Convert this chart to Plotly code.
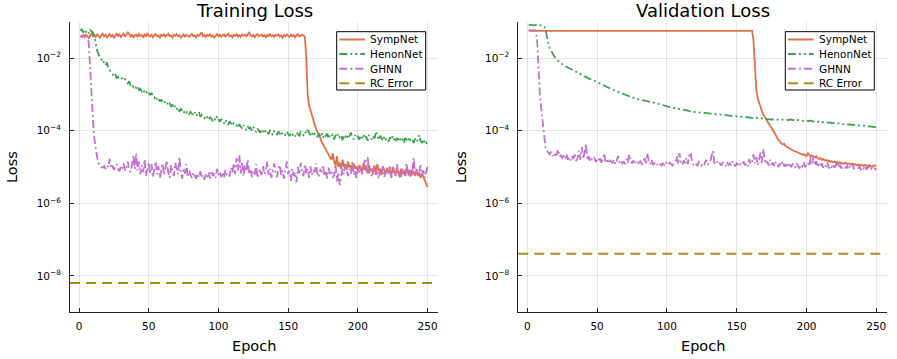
import plotly.graph_objects as go

# ---------------- data (log10 of loss) ----------------
epochs = list(range(1, 251))

train_sympnet_log10 = [
    -1.42, -1.40, -1.38, -1.43, -1.36, -1.40, -1.45, -1.38, -1.33, -1.40,
    -1.36, -1.42, -1.35, -1.39, -1.44, -1.37, -1.33, -1.40, -1.36, -1.43,
    -1.38, -1.34, -1.41, -1.37, -1.45, -1.36, -1.32, -1.39, -1.35, -1.42,
    -1.38, -1.33, -1.40, -1.36, -1.28, -1.37, -1.41, -1.35, -1.44, -1.38,
    -1.36, -1.42, -1.34, -1.39, -1.37, -1.44, -1.35, -1.40, -1.33, -1.38,
    -1.41, -1.36, -1.43, -1.37, -1.34, -1.40, -1.38, -1.45, -1.36, -1.39,
    -1.35, -1.41, -1.37, -1.33, -1.40, -1.38, -1.43, -1.36, -1.39, -1.34,
    -1.40, -1.37, -1.44, -1.38, -1.35, -1.41, -1.36, -1.39, -1.42, -1.37,
    -1.34, -1.40, -1.38, -1.43, -1.36, -1.39, -1.33, -1.29, -1.40, -1.37,
    -1.42, -1.36, -1.39, -1.35, -1.41, -1.38, -1.44, -1.37, -1.34, -1.40,
    -1.36, -1.42, -1.38, -1.35, -1.41, -1.37, -1.33, -1.40, -1.38, -1.43,
    -1.36, -1.39, -1.34, -1.41, -1.37, -1.42, -1.35, -1.39, -1.36, -1.40,
    -1.33, -1.30, -1.38, -1.41, -1.36, -1.43, -1.37, -1.34, -1.40, -1.38,
    -1.35, -1.41, -1.37, -1.44, -1.36, -1.39, -1.34, -1.40, -1.37, -1.42,
    -1.36, -1.39, -1.35, -1.41, -1.38, -1.44, -1.37, -1.40, -1.35, -1.39,
    -1.42, -1.36, -1.40, -1.37, -1.43, -1.38, -1.35, -1.41, -1.37, -1.36,
    -1.38, -1.42, -2.00, -3.00, -3.30, -3.45, -3.60, -3.70, -3.82, -3.95,
    -4.02, -4.10, -4.20, -4.30, -4.38, -4.45, -4.52, -4.58, -4.66, -4.72,
    -4.80, -4.62, -4.85, -4.95, -4.70, -5.00, -4.88, -5.05, -4.80, -5.00,
    -4.92, -5.08, -4.85, -5.02, -4.95, -5.10, -4.90, -5.05, -4.98, -5.12,
    -4.95, -5.05, -5.15, -4.90, -5.08, -5.00, -5.18, -4.95, -5.10, -5.05,
    -5.20, -5.00, -5.12, -4.92, -5.15, -5.05, -5.22, -5.00, -5.10, -5.18,
    -5.02, -5.15, -5.08, -5.25, -5.00, -5.12, -5.20, -5.05, -5.15, -5.28,
    -5.05, -5.18, -5.10, -5.25, -5.02, -5.15, -5.22, -5.08, -5.20, -5.12,
    -5.25, -5.10, -5.22, -5.15, -5.30, -5.18, -5.28, -5.35, -5.45, -5.55,
]

train_henonnet_log10 = [
    -1.25, -1.20, -1.30, -1.22, -1.28, -1.24, -1.32, -1.22, -1.27, -1.30,
    -1.40, -1.62, -1.80, -1.90, -1.96, -2.05, -2.02, -2.15, -2.20, -2.12,
    -2.28, -2.33, -2.40, -2.45, -2.50, -2.44, -2.55, -2.52, -2.58, -2.55,
    -2.56, -2.62, -2.58, -2.66, -2.70, -2.64, -2.75, -2.72, -2.80, -2.76,
    -2.83, -2.78, -2.88, -2.85, -2.92, -2.87, -2.95, -2.90, -2.98, -2.94,
    -3.02, -2.96, -3.06, -3.10, -3.04, -3.16, -3.12, -3.20, -3.14, -3.22,
    -3.18, -3.26, -3.22, -3.30, -3.25, -3.33, -3.28, -3.38, -3.32, -3.42,
    -3.36, -3.48, -3.40, -3.45, -3.52, -3.44, -3.50, -3.46, -3.55, -3.48,
    -3.53, -3.58, -3.50, -3.60, -3.55, -3.48, -3.62, -3.57, -3.62, -3.66,
    -3.58, -3.64, -3.70, -3.62, -3.68, -3.74, -3.66, -3.72, -3.60, -3.70,
    -3.76, -3.68, -3.74, -3.80, -3.70, -3.78, -3.84, -3.74, -3.80, -3.86,
    -3.78, -3.84, -3.85, -3.92, -3.82, -3.88, -3.95, -3.85, -3.90, -3.98,
    -3.88, -3.94, -3.92, -4.00, -3.90, -3.96, -4.04, -3.94, -4.00, -4.06,
    -3.96, -4.02, -4.08, -3.98, -4.04, -4.10, -3.98, -4.05, -4.12, -4.00,
    -4.06, -4.10, -4.02, -4.08, -4.14, -4.04, -4.07, -4.12, -4.03, -4.10,
    -4.15, -4.06, -4.12, -4.08, -4.16, -4.05, -4.10, -4.14, -4.04, -4.09,
    -4.12, -4.02, -4.08, -3.98, -4.06, -4.12, -4.04, -4.15, -4.08, -4.12,
    -4.18, -4.08, -4.14, -4.06, -4.20, -4.10, -4.15, -4.08, -4.22, -4.12,
    -4.16, -4.10, -4.24, -4.12, -4.18, -4.08, -4.20, -4.14, -4.26, -4.12,
    -4.17, -4.10, -4.22, -4.15, -4.05, -4.18, -4.24, -4.12, -4.20, -4.16,
    -4.25, -4.14, -4.20, -4.10, -4.22, -4.16, -4.28, -4.12, -4.18, -4.24,
    -4.15, -4.22, -4.02, -4.18, -4.26, -4.14, -4.22, -4.28, -4.16, -4.24,
    -4.20, -4.30, -4.18, -4.25, -4.14, -4.22, -4.32, -4.20, -4.26, -4.18,
    -4.28, -4.22, -4.34, -4.20, -4.26, -4.30, -4.18, -4.28, -4.24, -4.34,
    -4.22, -4.30, -4.26, -4.12, -4.28, -4.34, -4.24, -4.36, -4.32, -4.40,
]

train_ghnn_log10 = [
    -1.38, -1.42, -1.36, -1.40, -1.34, -1.38, -1.60, -2.40, -3.10, -3.70,
    -4.20, -4.55, -4.75, -4.90, -4.97, -5.00, -5.02, -4.98, -5.05, -4.95,
    -5.00, -4.78, -5.02, -4.96, -5.08, -5.00, -4.92, -5.06, -5.12, -4.98,
    -5.04, -4.90, -5.10, -5.02, -4.85, -5.08, -5.14, -4.95, -4.68, -5.05,
    -4.62, -5.10, -4.85, -5.20, -4.95, -5.15, -4.80, -5.25, -5.00, -4.88,
    -5.18, -4.92, -5.28, -5.05, -4.85, -5.20, -4.98, -5.30, -5.10, -4.90,
    -5.22, -5.02, -4.82, -5.15, -5.30, -4.95, -5.12, -5.25, -4.88, -5.08,
    -5.20, -4.72, -5.15, -5.32, -5.05, -5.18, -4.92, -5.28, -5.10, -5.22,
    -5.30, -5.15, -5.25, -5.32, -5.18, -5.28, -5.12, -5.30, -5.22, -5.35,
    -5.20, -5.28, -5.15, -5.32, -5.10, -5.25, -5.18, -5.30, -5.05, -5.22,
    -5.12, -5.28, -5.15, -5.30, -5.08, -5.22, -5.18, -5.26, -5.02, -5.15,
    -4.90, -5.20, -4.75, -5.10, -4.68, -5.18, -4.85, -5.25, -4.95, -5.12,
    -4.80, -5.20, -5.05, -5.28, -5.12, -5.22, -4.92, -5.30, -5.15, -5.08,
    -5.25, -4.98, -5.20, -5.10, -4.85, -5.22, -5.05, -5.30, -5.12, -4.90,
    -5.18, -5.28, -5.05, -4.95, -5.22, -5.10, -5.32, -5.02, -4.85, -5.20,
    -5.10, -5.38, -5.05, -5.25, -5.15, -5.42, -5.00, -5.20, -4.88, -5.15,
    -5.25, -4.92, -5.18, -5.05, -5.30, -4.98, -5.22, -5.08, -5.15, -4.90,
    -5.20, -5.28, -5.05, -5.15, -4.95, -5.25, -5.10, -5.32, -5.02, -5.18,
    -5.12, -5.30, -5.22, -4.92, -5.40, -5.15, -5.50, -5.28, -5.05, -5.20,
    -4.90, -5.12, -5.25, -5.05, -5.18, -4.85, -5.22, -5.10, -5.30, -5.02,
    -5.15, -4.95, -5.20, -5.08, -4.80, -5.12, -4.72, -5.18, -5.05, -5.25,
    -5.10, -4.92, -5.22, -5.15, -5.32, -5.05, -5.20, -4.98, -5.28, -5.12,
    -5.05, -5.22, -4.95, -5.30, -5.15, -5.08, -5.25, -4.92, -5.18, -5.10,
    -5.28, -5.05, -5.20, -5.12, -4.90, -5.25, -5.08, -5.30, -5.15, -4.75,
    -5.18, -5.05, -5.28, -5.12, -4.95, -5.22, -5.10, -5.30, -5.15, -4.98,
]

val_sympnet_log10 = [
    -1.25, -1.25, -1.26, -1.25, -1.24, -1.25, -1.26, -1.25, -1.25, -1.24,
    -1.25, -1.26, -1.25, -1.25, -1.24, -1.25, -1.25, -1.26, -1.25, -1.24,
    -1.25, -1.25, -1.26, -1.25, -1.25, -1.24, -1.25, -1.26, -1.25, -1.25,
    -1.24, -1.25, -1.25, -1.26, -1.25, -1.24, -1.25, -1.25, -1.26, -1.25,
    -1.25, -1.24, -1.25, -1.26, -1.25, -1.25, -1.24, -1.25, -1.26, -1.25,
    -1.25, -1.25, -1.24, -1.25, -1.26, -1.25, -1.25, -1.24, -1.25, -1.25,
    -1.26, -1.25, -1.24, -1.25, -1.25, -1.26, -1.25, -1.25, -1.24, -1.25,
    -1.26, -1.25, -1.25, -1.24, -1.25, -1.26, -1.25, -1.25, -1.24, -1.25,
    -1.25, -1.26, -1.25, -1.24, -1.25, -1.25, -1.26, -1.25, -1.25, -1.24,
    -1.25, -1.26, -1.25, -1.25, -1.24, -1.25, -1.26, -1.25, -1.25, -1.24,
    -1.25, -1.25, -1.26, -1.25, -1.24, -1.25, -1.25, -1.26, -1.25, -1.25,
    -1.24, -1.25, -1.26, -1.25, -1.25, -1.24, -1.25, -1.25, -1.26, -1.25,
    -1.25, -1.24, -1.25, -1.26, -1.25, -1.25, -1.24, -1.25, -1.25, -1.26,
    -1.25, -1.25, -1.24, -1.25, -1.26, -1.25, -1.25, -1.24, -1.25, -1.25,
    -1.26, -1.25, -1.24, -1.25, -1.25, -1.26, -1.25, -1.25, -1.24, -1.25,
    -1.25, -1.26, -1.25, -1.24, -1.25, -1.25, -1.26, -1.25, -1.25, -1.24,
    -1.25, -1.50, -2.30, -2.85, -3.10, -3.24, -3.35, -3.45, -3.55, -3.62,
    -3.68, -3.75, -3.82, -3.87, -3.92, -3.98, -4.05, -4.12, -4.20, -4.26,
    -4.30, -4.35, -4.38, -4.36, -4.42, -4.45, -4.48, -4.50, -4.52, -4.54,
    -4.55, -4.57, -4.58, -4.60, -4.62, -4.64, -4.66, -4.65, -4.68, -4.70,
    -4.62, -4.66, -4.72, -4.68, -4.72, -4.74, -4.70, -4.76, -4.78, -4.75,
    -4.80, -4.78, -4.82, -4.80, -4.84, -4.82, -4.86, -4.84, -4.87, -4.85,
    -4.88, -4.86, -4.90, -4.87, -4.91, -4.89, -4.90, -4.88, -4.92, -4.90,
    -4.91, -4.93, -4.90, -4.94, -4.92, -4.95, -4.93, -4.96, -4.94, -4.95,
    -4.97, -4.94, -4.96, -4.98, -4.95, -4.97, -5.00, -4.96, -4.97, -4.95,
]

val_henonnet_log10 = [
    -1.09, -1.08, -1.09, -1.10, -1.09, -1.08, -1.09, -1.10, -1.09, -1.10,
    -1.10, -1.12, -1.20, -1.42, -1.60, -1.72, -1.80, -1.88, -1.94, -1.99,
    -2.04, -2.07, -2.11, -2.14, -2.17, -2.20, -2.22, -2.24, -2.26, -2.28,
    -2.30, -2.32, -2.35, -2.37, -2.40, -2.42, -2.44, -2.46, -2.48, -2.50,
    -2.52, -2.53, -2.55, -2.57, -2.58, -2.59, -2.61, -2.62, -2.64, -2.65,
    -2.67, -2.69, -2.71, -2.73, -2.75, -2.77, -2.79, -2.81, -2.83, -2.85,
    -2.87, -2.88, -2.90, -2.92, -2.93, -2.95, -2.96, -2.98, -2.99, -3.01,
    -3.02, -3.04, -3.05, -3.07, -3.08, -3.10, -3.11, -3.12, -3.13, -3.14,
    -3.15, -3.16, -3.17, -3.18, -3.18, -3.19, -3.20, -3.20, -3.21, -3.22,
    -3.23, -3.24, -3.25, -3.26, -3.28, -3.29, -3.30, -3.31, -3.33, -3.34,
    -3.34, -3.35, -3.36, -3.37, -3.38, -3.38, -3.39, -3.40, -3.41, -3.42,
    -3.42, -3.43, -3.44, -3.45, -3.45, -3.46, -3.47, -3.47, -3.48, -3.48,
    -3.49, -3.49, -3.50, -3.50, -3.50, -3.51, -3.51, -3.52, -3.52, -3.53,
    -3.53, -3.53, -3.54, -3.54, -3.55, -3.55, -3.55, -3.56, -3.56, -3.57,
    -3.57, -3.57, -3.58, -3.58, -3.58, -3.59, -3.59, -3.60, -3.60, -3.60,
    -3.61, -3.61, -3.62, -3.62, -3.62, -3.63, -3.63, -3.64, -3.64, -3.64,
    -3.65, -3.65, -3.66, -3.64, -3.66, -3.67, -3.67, -3.66, -3.68, -3.68,
    -3.66, -3.68, -3.69, -3.69, -3.68, -3.69, -3.70, -3.68, -3.70, -3.70,
    -3.69, -3.70, -3.69, -3.70, -3.68, -3.70, -3.71, -3.70, -3.69, -3.71,
    -3.70, -3.71, -3.69, -3.71, -3.72, -3.71, -3.72, -3.73, -3.71, -3.73,
    -3.73, -3.74, -3.72, -3.74, -3.75, -3.74, -3.75, -3.76, -3.74, -3.76,
    -3.76, -3.77, -3.76, -3.78, -3.77, -3.78, -3.77, -3.79, -3.78, -3.79,
    -3.80, -3.79, -3.80, -3.81, -3.80, -3.82, -3.81, -3.82, -3.83, -3.82,
    -3.83, -3.84, -3.83, -3.84, -3.85, -3.84, -3.85, -3.86, -3.85, -3.86,
    -3.86, -3.87, -3.87, -3.88, -3.88, -3.89, -3.89, -3.90, -3.90, -3.91,
]

val_ghnn_log10 = [
    -1.23, -1.24, -1.23, -1.24, -1.23, -1.25, -1.50, -2.50, -3.00, -3.40,
    -3.75, -4.20, -4.45, -4.55, -4.60, -4.65, -4.58, -4.70, -4.62, -4.68,
    -4.66, -4.52, -4.72, -4.68, -4.75, -4.70, -4.78, -4.64, -4.80, -4.74,
    -4.82, -4.70, -4.78, -4.62, -4.84, -4.76, -4.55, -4.80, -4.45, -4.78,
    -4.60, -4.36, -4.82, -4.70, -4.85, -4.78, -4.82, -4.74, -4.86, -4.80,
    -4.84, -4.72, -4.88, -4.80, -4.62, -4.85, -4.78, -4.90, -4.82, -4.86,
    -4.88, -4.80, -4.92, -4.84, -4.70, -4.88, -4.82, -4.90, -4.86, -4.92,
    -4.78, -4.88, -4.65, -4.84, -4.90, -4.82, -4.92, -4.86, -4.94, -4.88,
    -4.84, -4.92, -4.88, -4.72, -4.90, -4.62, -4.86, -4.92, -4.80, -4.94,
    -4.90, -4.86, -4.94, -4.88, -4.92, -4.96, -4.90, -4.94, -4.86, -4.92,
    -4.95, -4.88, -4.92, -4.96, -4.90, -4.85, -4.70, -4.92, -4.62, -4.88,
    -4.94, -4.82, -4.90, -4.75, -4.92, -4.68, -4.60, -4.86, -4.94, -4.88,
    -4.92, -4.96, -4.84, -4.90, -4.95, -4.88, -4.92, -4.80, -4.94, -4.90,
    -4.86, -4.70, -4.55, -4.88, -4.92, -4.85, -4.94, -4.90, -4.96, -4.88,
    -4.92, -4.98, -4.86, -4.94, -4.90, -4.96, -4.84, -4.92, -4.98, -4.90,
    -4.94, -4.88, -4.96, -4.92, -4.85, -4.95, -4.90, -4.98, -4.78, -4.92,
    -4.88, -4.65, -4.90, -4.72, -4.94, -4.82, -4.60, -4.88, -4.50, -4.76,
    -4.92, -4.85, -4.96, -4.80, -4.94, -4.88, -4.98, -4.86, -4.92, -5.00,
    -4.90, -4.96, -4.84, -4.98, -4.92, -5.02, -4.88, -4.96, -5.00, -4.92,
    -4.98, -5.02, -4.90, -4.96, -5.04, -4.94, -4.98, -4.86, -5.00, -4.94,
    -4.88, -4.98, -4.75, -4.92, -4.70, -4.96, -4.84, -5.00, -4.92, -4.98,
    -4.90, -5.02, -4.94, -4.98, -4.88, -5.04, -4.96, -5.00, -4.92, -5.02,
    -4.96, -4.86, -5.02, -4.94, -5.04, -4.98, -4.90, -5.04, -4.96, -5.06,
    -4.98, -5.02, -4.92, -5.06, -5.00, -4.94, -5.04, -4.98, -5.08, -5.00,
    -5.04, -4.96, -5.06, -5.02, -4.98, -5.08, -5.02, -5.06, -5.04, -5.08,
]

rc_error_train = 6.4e-9
rc_error_val = 4.1e-8

series_names = ["SympNet", "HenonNet", "GHNN", "RC Error"]
panel_titles = ["Training Loss", "Validation Loss"]
x_tick_vals = [0, 50, 100, 150, 200, 250]
y_tick_vals = [1e-8, 1e-6, 1e-4, 1e-2]
y_tick_text = ["10<sup>\u22128</sup>", "10<sup>\u22126</sup>",
               "10<sup>\u22124</sup>", "10<sup>\u22122</sup>"]

# ---------------- styles / geometry ----------------
colors = ["#E26F46", "#3DA44D", "#C271D2", "#AD8E18"]
dashes = ["solid", "8px,3px,2px,3px,2px,3px", "8px,3px,2px,3px", "10px,6px"]
FONT = "DejaVu Sans"
W, H = 897, 359


def px(x):                   # window pixel -> paper x
    return x / W


def py(y):                   # window pixel -> paper y
    return 1 - y / H


def to_loss(vals):
    return [10 ** v for v in vals]


panels = [
    dict(xa="x", ya="y",
         series=[train_sympnet_log10, train_henonnet_log10, train_ghnn_log10],
         rc=rc_error_train, plot_x=(70, 438), legend_box=(336.7, 31.7, 425.7, 90.0)),
    dict(xa="x2", ya="y2",
         series=[val_sympnet_log10, val_henonnet_log10, val_ghnn_log10],
         rc=rc_error_val, plot_x=(518.3, 886.7), legend_box=(785.3, 31.7, 874.3, 90.0)),
]
PLOT_TOP, PLOT_BOTTOM = 21.7, 312.3

fig = go.Figure()
for p in panels:
    for i, s in enumerate(p["series"]):
        fig.add_trace(go.Scatter(
            x=epochs, y=to_loss(s), mode="lines", name=series_names[i],
            line=dict(color=colors[i], width=1.8, dash=dashes[i]),
            xaxis=p["xa"], yaxis=p["ya"], showlegend=False,
        ))
    # RC error reference level spans the whole axis
    fig.add_shape(type="line", xref=p["xa"] + " domain", yref=p["ya"],
                  x0=0, x1=1, y0=p["rc"], y1=p["rc"],
                  line=dict(color=colors[3], width=2, dash=dashes[3]), layer="above")

    # legend box (drawn like the reference's compact legend)
    bx0, by0, bx1, by1 = p["legend_box"]
    fig.add_shape(type="rect", xref="paper", yref="paper",
                  x0=px(bx0), x1=px(bx1), y0=py(by1), y1=py(by0),
                  fillcolor="white", line=dict(color="#000", width=1), layer="above")
    row_h = (by1 - by0) / 4
    for i, name in enumerate(series_names):
        yc = by0 + row_h * (i + 0.5) + 0.5
        fig.add_shape(type="line", xref="paper", yref="paper",
                      x0=px(bx0 + 2.6), x1=px(bx0 + 28.3), y0=py(yc), y1=py(yc),
                      line=dict(color=colors[i], width=2, dash=dashes[i]), layer="above")
        fig.add_annotation(text=name, xref="paper", yref="paper",
                           x=px(bx0 + 31.5), y=py(yc), showarrow=False,
                           xanchor="left", yanchor="middle",
                           font=dict(family=FONT, size=10.5, color="#000"))

y_dom = [py(PLOT_BOTTOM), py(PLOT_TOP)]

axis_common = dict(
    showline=True, linecolor="#222", linewidth=1, mirror=False,
    ticks="inside", ticklen=4, tickcolor="#222", tickwidth=1,
    showgrid=True, gridcolor="rgba(0,0,0,0.1)", gridwidth=1, zeroline=False,
    tickfont=dict(family=FONT, size=10.5, color="#000"),
)

layout = dict(
    width=W, height=H, margin=dict(l=0, r=0, t=0, b=0),
    paper_bgcolor="white", plot_bgcolor="white",
    font=dict(family=FONT, color="#000"),
    showlegend=False,
)
for k, (xn, yn) in enumerate([("xaxis", "yaxis"), ("xaxis2", "yaxis2")]):
    x0, x1 = panels[k]["plot_x"]
    layout[xn] = dict(axis_common, domain=[px(x0), px(x1)], range=[-6.47, 257.47],
                      tickvals=x_tick_vals, anchor="y" if k == 0 else "y2",
                      ticklabelstandoff=4)
    layout[yn] = dict(axis_common, domain=y_dom, type="log", range=[-9, -1],
                      tickvals=y_tick_vals, ticktext=y_tick_text,
                      anchor="x" if k == 0 else "x2", ticklabelstandoff=6)
fig.update_layout(**layout)

# titles and axis labels
ylabel_x = [12, 461]
for k, p in enumerate(panels):
    xc = (p["plot_x"][0] + p["plot_x"][1]) / 2
    fig.add_annotation(text=panel_titles[k], xref="paper", yref="paper",
                       x=px(xc), y=py(10), showarrow=False,
                       xanchor="center", yanchor="middle",
                       font=dict(family=FONT, size=18, color="#000"))
    fig.add_annotation(text="Epoch", xref="paper", yref="paper",
                       x=px(xc), y=py(346), showarrow=False,
                       xanchor="center", yanchor="middle",
                       font=dict(family=FONT, size=14.5, color="#000"))
    fig.add_annotation(text="Loss", xref="paper", yref="paper",
                       x=px(ylabel_x[k]), y=py((PLOT_TOP + PLOT_BOTTOM) / 2),
                       showarrow=False, textangle=-90,
                       xanchor="center", yanchor="middle",
                       font=dict(family=FONT, size=14.5, color="#000"))

# the page's default 8px body margin would push the figure off the window
fig.write_html("out.html", config={"displayModeBar": False},
               post_script="document.body.style.margin='0px';")
